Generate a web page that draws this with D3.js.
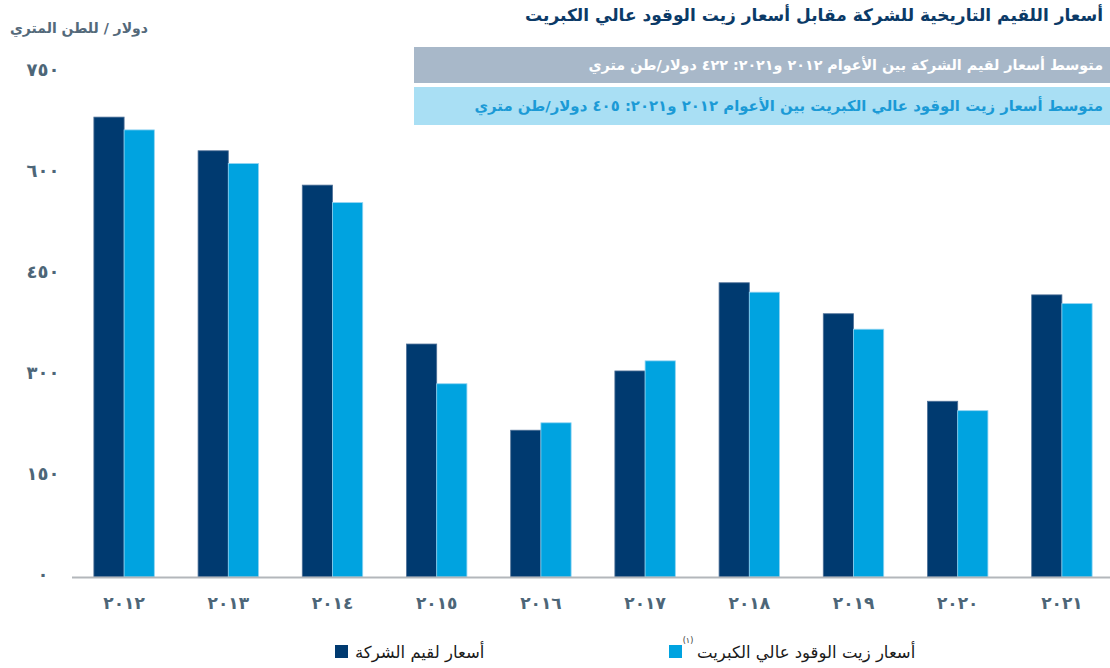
<!DOCTYPE html>
<html>
<head>
<meta charset="utf-8">
<script src="https://cdn.jsdelivr.net/npm/d3@7"></script>
<style>
  body { margin: 0; background: #fff; }
  text { font-family: "DejaVu Sans", "Noto Sans", sans-serif; }
</style>
</head>
<body>
<div id="chart"></div>
<script>
// data
var years = [2012, 2013, 2014, 2015, 2016, 2017, 2018, 2019, 2020, 2021];
var feedstock = [683, 633, 582, 346, 218, 306, 437, 391, 261, 419]; // company feedstock
var hsfo = [664, 614, 556, 287, 229, 321, 423, 368, 247, 406];      // high sulphur fuel oil
var yTicks = [0, 150, 300, 450, 600, 750];

var width = 1110, height = 668;

var svg = d3.select("#chart").append("svg")
  .attr("width", width)
  .attr("height", height);

// western digits -> arabic-indic digits
function ar(n) {
  return String(n).replace(/[0-9]/g, function (c) { return "٠١٢٣٤٥٦٧٨٩"[+c]; });
}

var x = d3.scaleBand()
  .domain(years)
  .range([72, 1114])
  .paddingInner(0.42)
  .paddingOuter(0.21);

var x1 = d3.scaleBand()
  .domain(["feed", "hsfo"])
  .range([0, x.bandwidth()]);

var y = d3.scaleLinear()
  .domain([0, 750])
  .range([577, 72]);

// title
svg.append("text")
  .attr("x", 1103).attr("y", 21)
  .attr("direction", "rtl")
  .attr("text-anchor", "start")
  .style("font-size", "17px")
  .style("font-weight", "bold")
  .attr("fill", "#0b3a67")
  .text("أسعار اللقيم التاريخية للشركة مقابل أسعار زيت الوقود عالي الكبريت");

// average boxes
svg.append("rect").attr("x", 414).attr("y", 47).attr("width", 696).attr("height", 36).attr("fill", "#a8b8c9");
svg.append("text")
  .attr("x", 1103).attr("y", 70)
  .attr("direction", "rtl").attr("text-anchor", "start")
  .style("font-size", "14.3px").style("font-weight", "bold")
  .attr("fill", "#ffffff")
  .text("متوسط أسعار لقيم الشركة بين الأعوام ٢٠١٢ و٢٠٢١:  ٤٢٢ دولار/طن متري");

svg.append("rect").attr("x", 414).attr("y", 87).attr("width", 696).attr("height", 38).attr("fill", "#a9dff4");
svg.append("text")
  .attr("x", 1103).attr("y", 111)
  .attr("direction", "rtl").attr("text-anchor", "start")
  .style("font-size", "14.9px").style("font-weight", "bold")
  .attr("fill", "#1b9ad6")
  .text("متوسط أسعار زيت الوقود عالي الكبريت بين الأعوام ٢٠١٢ و٢٠٢١:  ٤٠٥ دولار/طن متري");

// y axis title
svg.append("text")
  .attr("x", 148).attr("y", 33)
  .attr("direction", "rtl").attr("text-anchor", "start")
  .style("font-size", "14px").style("font-weight", "bold")
  .attr("fill", "#54697a")
  .text("دولار / للطن المتري");

// y tick labels (no axis line in the reference)
svg.append("g")
  .selectAll("text")
  .data(yTicks)
  .enter().append("text")
  .attr("x", 43)
  .attr("y", function (d) { return y(d) - 2; })
  .attr("dy", "0.35em")
  .attr("text-anchor", "middle")
  .style("font-size", "18px").style("font-weight", "bold")
  .attr("fill", "#4d6678")
  .text(function (d) { return ar(d); });

// bars
var group = svg.append("g")
  .selectAll("g")
  .data(years)
  .enter().append("g")
  .attr("transform", function (d) { return "translate(" + x(d) + ",0)"; });

group.append("rect")
  .attr("x", x1("feed"))
  .attr("y", function (d, i) { return y(feedstock[i]); })
  .attr("width", x1.bandwidth())
  .attr("height", function (d, i) { return y(0) - y(feedstock[i]); })
  .attr("fill", "#003a70")
  .attr("stroke", "#4f7198")
  .attr("stroke-width", 0.8);

group.append("rect")
  .attr("x", x1("hsfo"))
  .attr("y", function (d, i) { return y(hsfo[i]); })
  .attr("width", x1.bandwidth())
  .attr("height", function (d, i) { return y(0) - y(hsfo[i]); })
  .attr("fill", "#00a3e0")
  .attr("stroke", "#8fd3f2")
  .attr("stroke-width", 0.8);

// x axis
var xAxis = svg.append("g")
  .attr("transform", "translate(0," + y(0) + ")")
  .call(d3.axisBottom(x).tickSize(0).tickPadding(20).tickFormat(ar));
xAxis.select(".domain").remove();
xAxis.append("line")
  .attr("x1", 72).attr("x2", width)
  .attr("y1", 0.5).attr("y2", 0.5)
  .attr("stroke", "#b3b7bb").attr("stroke-width", 2);
xAxis.selectAll(".tick text")
  .style("font-family", "DejaVu Sans, sans-serif")
  .style("font-size", "17px").style("font-weight", "bold")
  .attr("fill", "#4d6678");

// legend
var legend = [
  { label: "أسعار لقيم الشركة", color: "#003a70", x: 335, note: false },
  { label: "أسعار زيت الوقود عالي الكبريت", color: "#00a3e0", x: 669, note: true }
];
var lg = svg.append("g").selectAll("g")
  .data(legend)
  .enter().append("g")
  .attr("transform", function (d) { return "translate(" + d.x + ",645)"; });
lg.append("rect")
  .attr("width", 13).attr("height", 13)
  .attr("fill", function (d) { return d.color; });
lg.append("text")
  .attr("x", function (d) { return d.note ? 28 : 20; })
  .attr("y", 13)
  .attr("text-anchor", "end")
  .attr("direction", "rtl")
  .style("font-size", "16.5px")
  .attr("fill", "#1a1a1a")
  .text(function (d) { return d.label; });
lg.filter(function (d) { return d.note; })
  .append("text")
  .attr("x", 19).attr("y", -2)
  .attr("text-anchor", "middle")
  .style("font-size", "8px")
  .attr("fill", "#333")
  .text("(١)");
</script>
</body>
</html>
